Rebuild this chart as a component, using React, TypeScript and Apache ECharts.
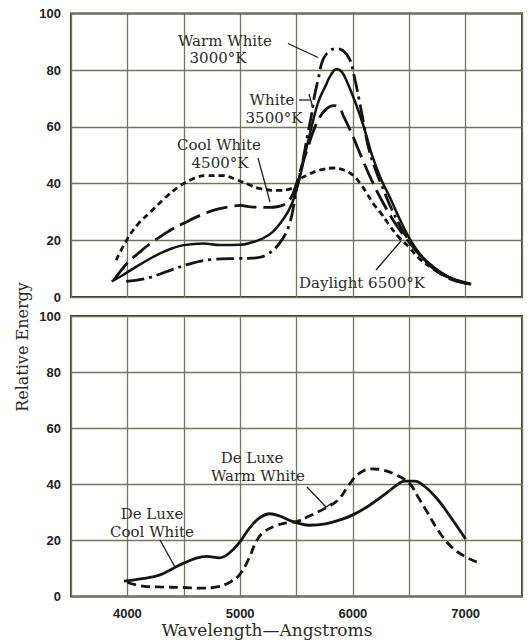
import React, { useEffect, useRef } from 'react';
import * as echarts from 'echarts';

// ---- axes ----
const X_MIN = 3500;
const X_MAX = 7500;
const X_STEP = 500;
const X_LABELS = [4000, 5000, 6000, 7000];
const Y_MIN = 0;
const Y_MAX = 100;
const Y_STEP = 20;

// ---- top panel series (wavelength Å, relative energy) ----
const daylight6500: [number, number][] = [
  [3900, 13], [4000, 20.5], [4100, 26], [4200, 29.8], [4330, 34.8], [4460, 39], [4600, 42],
  [4700, 42.8], [4850, 42.8], [4960, 41.5], [5080, 39.6], [5170, 38.3], [5320, 37.6], [5470, 38.5],
  [5530, 41.5], [5620, 43.5], [5710, 44.8], [5830, 45.5], [5920, 44.8], [6000, 43], [6075, 39.5],
  [6120, 36.8], [6180, 33], [6250, 29.5], [6320, 25.5], [6410, 21], [6500, 17.5], [6590, 13.5],
  [6710, 10], [6830, 7.2], [6950, 5.4], [7050, 4.5],
];
const coolWhite4500: [number, number][] = [
  [3880, 6], [4000, 12], [4100, 15.5], [4200, 18.8], [4300, 21.5], [4400, 24], [4500, 26],
  [4600, 28], [4700, 29.7], [4800, 31], [4900, 31.8], [5000, 32.3], [5091, 31.8], [5258, 31.6],
  [5380, 32.4], [5450, 35], [5500, 40], [5560, 48], [5600, 52.5], [5640, 57.5], [5700, 63],
  [5760, 66.2], [5830, 67.5], [5880, 66.8], [5920, 63.5], [5986, 58], [6075, 49.5], [6165, 41.3],
  [6255, 34.2], [6359, 27], [6464, 21], [6584, 15.3], [6735, 9.4], [6886, 6], [7040, 4.7],
];
const white3500: [number, number][] = [
  [3860, 5.5], [3950, 7.5], [4080, 10.7], [4200, 13.5], [4290, 15.4], [4400, 17.2], [4500, 18.3],
  [4670, 18.9], [4820, 18.3], [5000, 18.4], [5100, 19.2], [5180, 20.3], [5290, 23], [5400, 28.5],
  [5460, 33], [5500, 38], [5530, 42.2], [5583, 51.6], [5640, 61], [5695, 69], [5764, 75],
  [5800, 78], [5856, 80.4], [5900, 79.5], [5945, 76.2], [6028, 68], [6097, 60], [6167, 50.4],
  [6250, 41.5], [6330, 35], [6404, 28.5], [6494, 21.2], [6560, 17], [6645, 13], [6795, 8.3],
  [6920, 6], [7040, 4.7],
];
const warmWhite3000: [number, number][] = [
  [3990, 5.5], [4170, 6.6], [4380, 9.4], [4560, 11.8], [4740, 13.2], [4985, 13.6], [5110, 13.7],
  [5230, 14.8], [5350, 19], [5440, 26], [5500, 38], [5556, 48], [5600, 57.5], [5635, 64.6],
  [5655, 70], [5695, 77.3], [5736, 83.8], [5800, 87], [5856, 87.6], [5910, 87], [5972, 83.8],
  [6014, 77.5], [6056, 69.5], [6097, 61], [6140, 52.5], [6200, 45], [6270, 38], [6344, 31],
  [6464, 22], [6614, 14], [6765, 9], [6900, 6], [7040, 4.5],
];

// ---- bottom panel series ----
const deLuxeCoolWhite: [number, number][] = [
  [3970, 5.5], [4135, 6.4], [4284, 7.6], [4404, 10], [4500, 11.9], [4612, 13.7], [4700, 14.3],
  [4818, 13.8], [4906, 15.6], [5000, 19.6], [5083, 24.4], [5172, 28], [5262, 29.5], [5351, 28.7],
  [5440, 27.1], [5530, 26], [5614, 25.4], [5757, 25.9], [5900, 27.5], [6000, 29.1], [6132, 32.1],
  [6279, 36.3], [6395, 39.9], [6456, 41.1], [6545, 41.1], [6635, 39.3], [6754, 34.5], [6874, 27.9],
  [7000, 20.5],
];
const deLuxeWarmWhite: [number, number][] = [
  [4000, 5], [4135, 3.7], [4284, 3.4], [4500, 3.2], [4644, 3.0], [4793, 3.4], [4913, 5.2],
  [5000, 8], [5074, 13.2], [5141, 19.5], [5203, 22.8], [5321, 25.3], [5430, 26.4], [5500, 26.7],
  [5614, 28.7], [5757, 31.5], [5871, 34.5], [5957, 39.3], [6044, 43.5], [6162, 45.5], [6279, 45],
  [6395, 43.1], [6500, 40.5], [6575, 35.7], [6665, 29.7], [6754, 23.7], [6874, 17.7], [7000, 14.1],
  [7099, 12.3],
];

const INK = '#141414';
const TEXT = '#2b2b1f';
const GRIDC = '#74745f';
const SERIF = '"DejaVu Serif", serif';
const SANS = '"Liberation Sans", Arial, sans-serif';

function xAxis(gridIndex: number, labels: boolean) {
  return {
    gridIndex,
    type: 'value',
    min: X_MIN,
    max: X_MAX,
    interval: X_STEP,
    axisLine: { show: false },
    axisTick: { show: false },
    axisLabel: {
      show: labels,
      margin: 10,
      fontFamily: SANS,
      fontWeight: 'bold',
      fontSize: 13,
      color: '#222',
      formatter: (v: number) => (X_LABELS.includes(v) ? String(v) : ''),
    },
    splitLine: { show: true, lineStyle: { color: GRIDC, width: 1.3 } },
  };
}
function yAxis(gridIndex: number) {
  return {
    gridIndex,
    type: 'value',
    min: Y_MIN,
    max: Y_MAX,
    interval: Y_STEP,
    axisLine: { show: false },
    axisTick: { show: false },
    axisLabel: {
      margin: 10,
      fontFamily: SANS,
      fontWeight: 'bold',
      fontSize: 13,
      color: '#222',
      showMinLabel: true,
      showMaxLabel: true,
    },
    splitLine: { show: true, lineStyle: { color: GRIDC, width: 1.3 } },
  };
}
function line(name: string, data: [number, number][], idx: number, dash: any, width = 2.8) {
  return {
    name,
    type: 'line',
    xAxisIndex: idx,
    yAxisIndex: idx,
    data,
    smooth: 0.4,
    symbol: 'none',
    silent: true,
    lineStyle: { color: INK, width, type: dash, cap: 'butt' },
    z: 3,
  };
}
function label(text: string, x: number, y: number, align = 'center') {
  return {
    type: 'text',
    x,
    y,
    z: 10,
    style: { text, fill: TEXT, fontSize: 15, fontFamily: SERIF, align, verticalAlign: 'middle' },
  };
}
function seg(x1: number, y1: number, x2: number, y2: number, w = 1.3) {
  return {
    type: 'line',
    z: 10,
    shape: { x1, y1, x2, y2 },
    style: { stroke: '#1e1e1e', lineWidth: w },
  };
}

export default function App() {
  const ref = useRef<HTMLDivElement>(null);
  useEffect(() => {
    const chart = echarts.init(ref.current!, null, { renderer: 'svg' });
    chart.setOption({
      animation: false,
      backgroundColor: '#ffffff',
      grid: [
        { left: 71, top: 13.5, width: 451, height: 283.5, show: true, borderColor: '#2d2d26', borderWidth: 1.8 },
        { left: 71, top: 316, width: 451, height: 280.5, show: true, borderColor: '#2d2d26', borderWidth: 1.8 },
      ],
      xAxis: [xAxis(0, false), xAxis(1, true)],
      yAxis: [yAxis(0), yAxis(1)],
      series: [
        line('Daylight 6500°K', daylight6500, 0, [6, 4]),
        line('Cool White 4500°K', coolWhite4500, 0, [22, 7]),
        line('White 3500°K', white3500, 0, 'solid', 2.5),
        line('Warm White 3000°K', warmWhite3000, 0, [18, 5, 3, 5]),
        line('De Luxe Cool White', deLuxeCoolWhite, 1, 'solid', 2.8),
        line('De Luxe Warm White', deLuxeWarmWhite, 1, [9, 5]),
      ],
      graphic: [
        // top panel annotations
        label('Warm White', 225, 40.5),
        label('3000°K', 218, 57.5),
        seg(288, 43.5, 318, 57.5),
        label('White', 272, 99.5),
        label('3500°K', 274, 117.5),
        seg(299, 100, 311, 100),
        seg(309, 94, 313, 108),
        label('Cool White', 219, 145),
        label('4500°K', 220, 163),
        seg(258, 158, 270, 202),
        label('Daylight 6500°K', 425, 283, 'right'),
        seg(376, 270, 401, 241),
        // bottom panel annotations
        label('De Luxe', 252, 457.5),
        label('Warm White', 258, 476),
        seg(307, 487, 326, 507),
        seg(320, 511, 332, 503),
        label('De Luxe', 152, 514),
        label('Cool White', 152, 532),
        seg(160, 540, 175, 567),
        // axis titles
        {
          type: 'text',
          x: 22,
          y: 347,
          rotation: Math.PI / 2,
          style: { text: 'Relative Energy', fill: TEXT, fontSize: 16, fontFamily: SERIF, align: 'center', verticalAlign: 'middle' },
        },
        {
          type: 'text',
          x: 267,
          y: 630,
          style: { text: 'Wavelength—Angstroms', fill: TEXT, fontSize: 17, fontFamily: SERIF, align: 'center', verticalAlign: 'middle' },
        },
      ],
    });
    return () => chart.dispose();
  }, []);
  return (
    <div
      ref={ref}
      style={{ position: 'fixed', left: 0, top: 0, width: 531, height: 641, background: '#fff' }}
    />
  );
}
